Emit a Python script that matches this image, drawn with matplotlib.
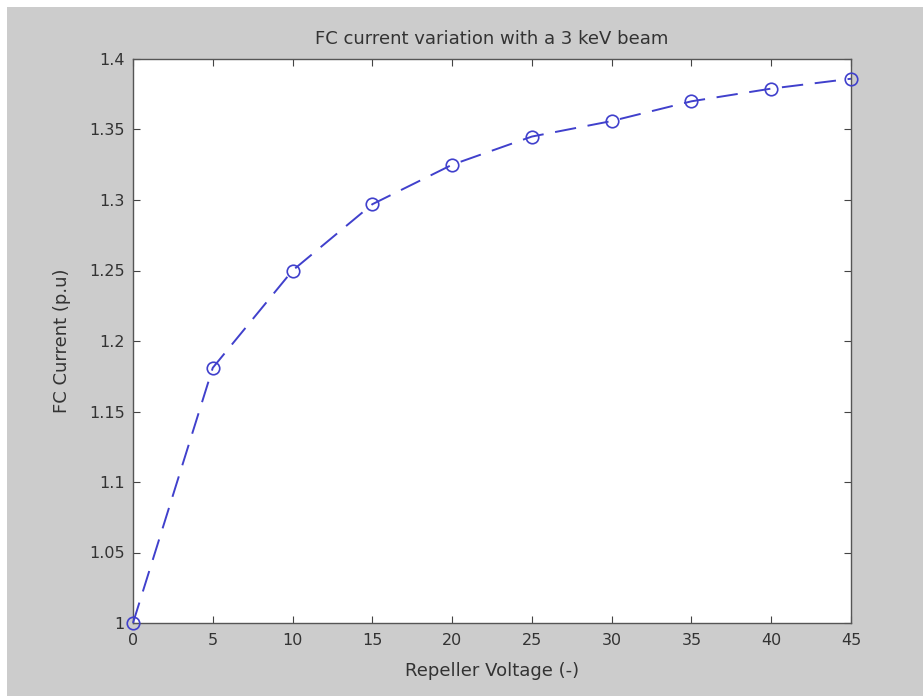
import numpy as np
import matplotlib
matplotlib.use('Agg')
import matplotlib.pyplot as plt
from matplotlib.patches import Rectangle

# repeller voltage vs FC current
voltage = [0, 5, 10, 15, 20, 25, 30, 35, 40, 45]
current = [1.0, 1.181, 1.250, 1.297, 1.325, 1.345, 1.356, 1.370, 1.379, 1.386]

xticks = [0, 5, 10, 15, 20, 25, 30, 35, 40, 45]
yticks = [1.0, 1.05, 1.1, 1.15, 1.2, 1.25, 1.3, 1.35, 1.4]
yticklabels = ['1', '1.05', '1.1', '1.15', '1.2', '1.25', '1.3', '1.35', '1.4']

plt.rcParams['font.family'] = ['DejaVu Sans']

W, H = 923, 696
fig = plt.figure(figsize=(W / 100, H / 100), dpi=100, facecolor='white')
# grey matlab-like frame, small white margin top/left
fig.patches.append(Rectangle((7 / W, 0), 1 - 7 / W, 1 - 7 / H,
                             transform=fig.transFigure, facecolor='#cccccc',
                             edgecolor='none', zorder=-10))

ax = fig.add_axes([133 / W, 1 - 623 / H, (851 - 133) / W, (623 - 59) / H])
ax.set_facecolor('white')

ax.plot(voltage, current, linestyle=(0, (11, 6)), color='#4040cc', lw=1.4,
        marker='o', markersize=9, markerfacecolor='none',
        markeredgecolor='#4040cc', markeredgewidth=1.2, clip_on=False, zorder=3)

ax.set_xlim(0, 45)
ax.set_ylim(1.0, 1.4)
ax.set_xticks(xticks)
ax.set_yticks(yticks)
ax.set_yticklabels(yticklabels)
ax.tick_params(direction='in', top=True, right=True, length=5, width=0.8,
               labelsize=11.5, colors='#444444', labelcolor='#333333')
ax.tick_params(axis='x', pad=7)
ax.tick_params(axis='y', pad=6)
for s in ax.spines.values():
    s.set_color('#555555')
    s.set_linewidth(1.0)

ax.set_title('FC current variation with a 3 keV beam', fontsize=13,
             color='#333333', pad=11)
ax.set_xlabel('Repeller Voltage (-)', fontsize=13, color='#333333', labelpad=10)
ax.set_ylabel('FC Current (p.u)', fontsize=13, color='#333333', labelpad=13)

fig.savefig('out.png', dpi=100, facecolor=fig.get_facecolor())
